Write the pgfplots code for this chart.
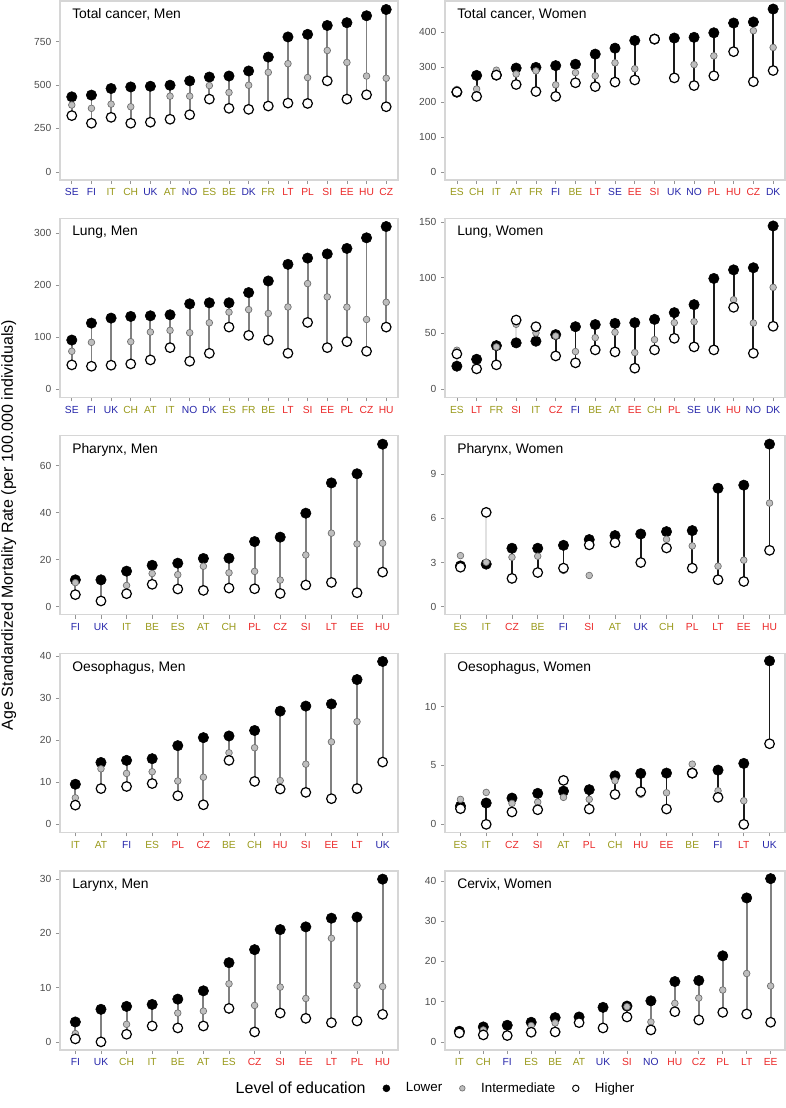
\documentclass[border=0pt]{standalone}
\usepackage{pgfplots}
\pgfplotsset{compat=1.18}
\usepackage{pgfplotstable}
\usepackage{fontspec}
\setmainfont{Liberation Sans}
\definecolor{cB}{RGB}{38,38,170}
\definecolor{cO}{RGB}{153,153,26}
\definecolor{cR}{RGB}{235,40,40}
\definecolor{frame}{RGB}{214,214,214}
\definecolor{tickc}{RGB}{77,77,77}
\definecolor{midfill}{RGB}{190,190,190}
\definecolor{midline}{RGB}{110,110,110}
\definecolor{segG}{RGB}{128,128,128}
\definecolor{segK}{RGB}{26,26,26}
\definecolor{segL}{RGB}{225,225,225}
\newcommand\cb[1]{\textcolor{cB}{#1}}
\newcommand\co[1]{\textcolor{cO}{#1}}
\newcommand\cre[1]{\textcolor{cR}{#1}}

% Total cancer, Men
\pgfplotstableread{
x lo mid hi lc
1 432 385 324 0
2 442 366 280 0
3 480 390 314 0
4 489 375 280 0
5 493 nan 286 0
6 499 436 303 0
7 524 436 329 0
8 546 497 419 0
9 552 457 366 0
10 581 499 360 0
11 661 573 379 0
12 777 623 396 0
13 792 543 394 0
14 843 699 524 0
15 859 630 419 0
16 899 552 444 0
17 935 539 375 0
}\tA
% Total cancer, Women
\pgfplotstableread{
x lo mid hi lc
1 228 236 229 0
2 276 237 216 0
3 277 291 277 0
4 297 280 250 0
5 299 289 230 0
6 304 249 216 0
7 308 284 255 0
8 337 275 244 0
9 354 312 257 0
10 376 295 263 0
11 380 nan 380 0
12 383 nan 269 0
13 385 307 247 0
14 398 332 275 0
15 426 nan 344 0
16 429 404 258 0
17 466 356 290 0
}\tB
% Lung, Men
\pgfplotstableread{
x lo mid hi lc
1 94.4 72.8 46.6 0
2 127 90 44 0
3 136.6 nan 46 0
4 139.8 91.3 48.5 0
5 141 109.8 56.2 0
6 143 113 79.8 0
7 164 108.5 53.6 0
8 166 127.6 68.9 0
9 166 148 119.3 0
10 185.7 153 103.4 0
11 208 145.5 94.4 0
12 240 158 69 0
13 252 203 128.3 0
14 260 177.4 79.8 0
15 270.6 157.6 91.3 0
16 291 134 72.8 0
17 312.7 167 119.3 0
}\tC
% Lung, Women
\pgfplotstableread{
x lo mid hi lc
1 20.6 34.9 31.6 1
2 26.8 nan 18.2 0
3 39 37.9 21.8 0
4 41.5 58.2 62 1
5 43 50.4 56 1
6 48.9 47.7 29.8 0
7 56 33.7 23.6 0
8 57.9 46.2 35.2 0
9 59 51 33.4 0
10 59.6 32.8 18.8 0
11 62.6 44.4 35.2 0
12 68.6 59.6 45.6 0
13 75.8 60.5 37.9 0
14 99.3 nan 35.2 0
15 107 80.2 73.4 0
16 108.9 59.3 32.2 0
17 146.4 91.3 56.4 0
}\tD
% Pharynx, Men
\pgfplotstableread{
x lo mid hi lc
1 11.4 10.2 5.1 0
2 11.4 nan 2.4 0
3 15.1 9.0 5.5 0
4 17.6 14.1 9.5 0
5 18.5 13.6 7.5 0
6 20.5 17.2 6.9 0
7 20.6 14.4 7.9 0
8 27.7 15.0 7.6 0
9 29.6 11.3 5.6 0
10 39.8 22.0 9.2 0
11 52.7 31.3 10.3 0
12 56.6 26.7 5.9 0
13 69.2 27.0 14.7 0
}\tE
% Pharynx, Women
\pgfplotstableread{
x lo mid hi lc
1 2.77 3.47 2.68 0
2 2.89 3.02 6.41 1
3 3.97 3.36 1.92 0
4 3.97 3.43 2.32 0
5 4.17 2.46 2.62 0
6 4.56 2.12 4.20 0
7 4.83 nan 4.35 0
8 4.94 nan 3.00 0
9 5.10 4.58 3.99 0
10 5.17 4.13 2.62 0
11 8.05 2.75 1.83 0
12 8.26 3.16 1.71 0
13 11.05 7.04 3.83 0
}\tF
% Oesophagus, Men
\pgfplotstableread{
x lo mid hi lc
1 9.53 6.3 4.57 0
2 14.7 13.2 8.5 0
3 15.2 12.1 9.0 0
4 15.6 12.5 9.7 0
5 18.7 10.3 6.8 0
6 20.6 11.2 4.65 0
7 21.0 17.0 15.2 0
8 22.3 18.2 10.2 0
9 26.9 10.4 8.4 0
10 28.1 14.3 7.6 0
11 28.6 19.6 6.1 0
12 34.4 24.4 8.5 0
13 38.7 nan 14.8 0
}\tG
% Oesophagus, Women
\pgfplotstableread{
x lo mid hi lc
1 1.55 2.12 1.33 0
2 1.81 2.71 0 0
3 2.23 1.78 1.05 0
4 2.63 1.89 1.24 0
5 2.82 2.29 3.73 1
6 2.94 2.12 1.30 0
7 4.12 3.70 2.54 0
8 4.32 2.54 2.77 0
9 4.35 2.68 1.30 0
10 4.35 5.11 4.35 0
11 4.60 2.85 2.29 0
12 5.17 2.00 0 0
13 13.87 nan 6.84 0
}\tH
% Larynx, Men
\pgfplotstableread{
x lo mid hi lc
1 3.67 1.53 0.55 0
2 6.0 nan 0 0
3 6.54 3.24 1.4 0
4 6.9 nan 2.93 0
5 7.88 5.31 2.57 0
6 9.41 5.68 2.93 0
7 14.6 10.7 6.17 0
8 17.0 6.72 1.83 0
9 20.7 10.1 5.31 0
10 21.2 8.0 4.34 0
11 22.8 19.1 3.54 0
12 23.0 10.4 3.85 0
13 30.0 10.2 5.07 0
}\tI
% Cervix, Women
\pgfplotstableread{
x lo mid hi lc
1 2.64 1.81 2.23 0
2 3.71 2.97 1.73 0
3 4.12 nan 1.57 0
4 4.87 4.04 2.39 0
5 6.02 4.70 2.47 0
6 6.19 nan 4.78 0
7 8.58 nan 3.46 0
8 8.90 8.74 6.19 0
9 10.2 4.95 2.97 0
10 15.0 9.57 7.50 0
11 15.26 10.9 5.44 0
12 21.4 12.9 7.34 0
13 35.8 17.0 6.93 0
14 40.6 13.9 4.87 0
}\tJ

\pgfplotsset{
  panel/.style={
    scale only axis, width=253.5pt, height=134.25pt, anchor=north west,
    axis line style={draw=frame, line width=1.1pt},
    tick pos=left, tick align=outside, major tick length=3pt,
    tick style={draw=tickc!60, line width=0.5pt},
    ticklabel style={font=\fontsize{7.7}{9}\selectfont},
    yticklabel style={text=tickc, /pgf/number format/fixed},
    /pgf/number format/assume math mode=true,
    scaled y ticks=false,
    xmin=0.4,
    title style={at={(0,1)}, anchor=north west, xshift=9.0pt, yshift=-11.6pt,
      inner sep=0pt, font=\fontsize{10.4}{12}\selectfont},
  },
  rpanel/.style={panel, width=255pt},
  seg/.style={forget plot, draw=#1, line width=1.4pt, mark=none,
    quiver={u=0, v=\thisrow{hi}-\thisrow{lo},
      every arrow/.append style={draw=#1, line width=1.4pt}}},
  lowmark/.style={forget plot, only marks, mark=*, mark size=3.9pt,
    mark options={fill=black, draw=black, line width=0.4pt}},
  midmark/.style={forget plot, only marks, mark=*, mark size=2.5pt,
    mark options={fill=midfill, draw=midline, line width=0.5pt}},
  himark/.style={forget plot, only marks, mark=*, mark size=3.6pt,
    mark options={fill=white, draw=black, line width=0.9pt}},
}
\newcommand\dumb[2]{%
  \addplot[seg=#2, restrict expr to domain={\thisrow{lc}}{-0.5:0.5}] table[x=x,y=lo]{#1};}
\newcommand\revseg[1]{%
  \addplot[seg=segL, restrict expr to domain={\thisrow{lc}}{0.5:1.5}] table[x=x,y=lo]{#1};}
\newcommand\pts[1]{%
  \addplot[lowmark] table[x=x,y=lo]{#1};
  \addplot[midmark] table[x=x,y=mid]{#1};
  \addplot[himark] table[x=x,y=hi]{#1};}

\begin{document}
\begin{tikzpicture}
\useasboundingbox (0,0) rectangle (589.5pt,-831pt);
\node[rotate=90, font=\fontsize{12}{14.4}\selectfont, anchor=center] at (6.6pt,-393.75pt)
  {Age Standardized Mortality Rate (per 100.000 individuals)};

% Row 1
\begin{axis}[panel, at={(45pt,-0.75pt)}, xmax=17.6, xtick={1,...,17},
  xticklabels={\cb{SE},\cb{FI},\co{IT},\co{CH},\cb{UK},\co{AT},\cb{NO},\co{ES},\co{BE},\cb{DK},\co{FR},\cre{LT},\cre{PL},\cre{SI},\cre{EE},\cre{HU},\cre{CZ}},
  ymin=-47, ymax=984, ytick={0,250,500,750}, title={Total cancer, Men}]
\dumb{\tA}{segG}
\pts{\tA}
\end{axis}
\begin{axis}[rpanel, at={(333.75pt,-0.75pt)}, xmax=17.6, xtick={1,...,17},
  xticklabels={\co{ES},\co{CH},\co{IT},\co{AT},\co{FR},\cb{FI},\co{BE},\cre{LT},\cb{SE},\cre{EE},\cre{SI},\cb{UK},\cb{NO},\cre{PL},\cre{HU},\cre{CZ},\cb{DK}},
  ymin=-23.3, ymax=489, ytick={0,100,200,300,400}, title={Total cancer, Women}]
\dumb{\tB}{segK}
\pts{\tB}
\end{axis}

% Row 2
\begin{axis}[panel, at={(45pt,-163.7pt)}, xmax=17.6, xtick={1,...,17},
  xticklabels={\cb{SE},\cb{FI},\cb{UK},\co{CH},\co{AT},\co{IT},\cb{NO},\cb{DK},\co{ES},\co{FR},\co{BE},\cre{LT},\cre{SI},\cre{EE},\cre{PL},\cre{CZ},\cre{HU}},
  ymin=-15.65, ymax=328.6, ytick={0,100,200,300}, title={Lung, Men}]
\dumb{\tC}{segG}
\pts{\tC}
\end{axis}
\begin{axis}[rpanel, at={(333.75pt,-163.7pt)}, xmax=17.6, xtick={1,...,17},
  xticklabels={\co{ES},\cre{LT},\co{FR},\cre{SI},\co{IT},\cre{CZ},\cb{FI},\co{BE},\co{AT},\cre{EE},\co{CH},\cre{PL},\cb{SE},\cb{UK},\cre{HU},\cb{NO},\cb{DK}},
  ymin=-7.3, ymax=153.3, ytick={0,50,100,150}, title={Lung, Women}]
\revseg{\tD}
\dumb{\tD}{segK}
\pts{\tD}
\end{axis}

% Row 3
\begin{axis}[panel, at={(45pt,-326.8pt)}, xmax=13.6, xtick={1,...,13},
  xticklabels={\cb{FI},\cb{UK},\co{IT},\co{BE},\co{ES},\co{AT},\co{CH},\cre{PL},\cre{CZ},\cre{SI},\cre{LT},\cre{EE},\cre{HU}},
  ymin=-3.47, ymax=72.8, ytick={0,20,40,60}, title={Pharynx, Men}]
\dumb{\tE}{segG}
\pts{\tE}
\end{axis}
\begin{axis}[rpanel, at={(333.75pt,-326.8pt)}, xmax=13.6, xtick={1,...,13},
  xticklabels={\co{ES},\co{IT},\cre{CZ},\co{BE},\cb{FI},\cre{SI},\co{AT},\cb{UK},\co{CH},\cre{PL},\cre{LT},\cre{EE},\cre{HU}},
  ymin=-0.55, ymax=11.62, ytick={0,3,6,9}, title={Pharynx, Women}]
\revseg{\tF}
\dumb{\tF}{segK}
\pts{\tF}
\end{axis}

% Row 4
\begin{axis}[panel, at={(45pt,-490.1pt)}, xmax=13.6, xtick={1,...,13},
  xticklabels={\co{IT},\co{AT},\cb{FI},\co{ES},\cre{PL},\cre{CZ},\co{BE},\co{CH},\cre{HU},\cre{SI},\cre{EE},\cre{LT},\cb{UK}},
  ymin=-1.93, ymax=40.6, ytick={0,10,20,30,40}, title={Oesophagus, Men}]
\dumb{\tG}{segG}
\pts{\tG}
\end{axis}
\begin{axis}[rpanel, at={(333.75pt,-490.1pt)}, xmax=13.6, xtick={1,...,13},
  xticklabels={\co{ES},\co{IT},\cre{CZ},\cre{SI},\co{AT},\cre{PL},\co{CH},\cre{HU},\cre{EE},\co{BE},\cb{FI},\cre{LT},\cb{UK}},
  ymin=-0.69, ymax=14.5, ytick={0,5,10}, title={Oesophagus, Women}]
\revseg{\tH}
\dumb{\tH}{segK}
\pts{\tH}
\end{axis}

% Row 5
\begin{axis}[panel, at={(45pt,-653.25pt)}, xmax=13.6, xtick={1,...,13},
  xticklabels={\cb{FI},\cb{UK},\co{CH},\co{IT},\co{BE},\co{AT},\co{ES},\cre{CZ},\cre{SI},\cre{EE},\cre{LT},\cre{PL},\cre{HU}},
  ymin=-1.5, ymax=31.5, ytick={0,10,20,30}, title={Larynx, Men}]
\dumb{\tI}{segG}
\pts{\tI}
\end{axis}
\begin{axis}[rpanel, at={(333.75pt,-653.25pt)}, xmax=14.6, xtick={1,...,14},
  xticklabels={\co{IT},\co{CH},\cb{FI},\co{ES},\co{BE},\co{AT},\cb{UK},\cre{SI},\cb{NO},\cre{HU},\cre{CZ},\cre{PL},\cre{LT},\cre{EE}},
  ymin=-2.03, ymax=42.5, ytick={0,10,20,30,40}, title={Cervix, Women},
  legend style={at={(-0.049,-0.214)}, anchor=center, draw=none, fill=none,
    legend columns=-1, font=\fontsize{10}{12}\selectfont,
    /tikz/every odd column/.append style={column sep=10pt},
    /tikz/every even column/.append style={column sep=11pt}},
  legend cell align=left]
\dumb{\tJ}{segG}
\pts{\tJ}
\addlegendimage{empty legend}
\addlegendentry{\fontsize{12}{14.4}\selectfont Level of education}
\addlegendimage{only marks, mark=*, mark size=2.6pt, mark options={fill=black, draw=black}}
\addlegendentry{Lower}
\addlegendimage{only marks, mark=*, mark size=2.1pt, mark options={fill=midfill, draw=midline, line width=0.5pt}}
\addlegendentry{Intermediate}
\addlegendimage{only marks, mark=*, mark size=2.4pt, mark options={fill=white, draw=black, line width=0.7pt}}
\addlegendentry{Higher}
\end{axis}
\end{tikzpicture}
\end{document}
